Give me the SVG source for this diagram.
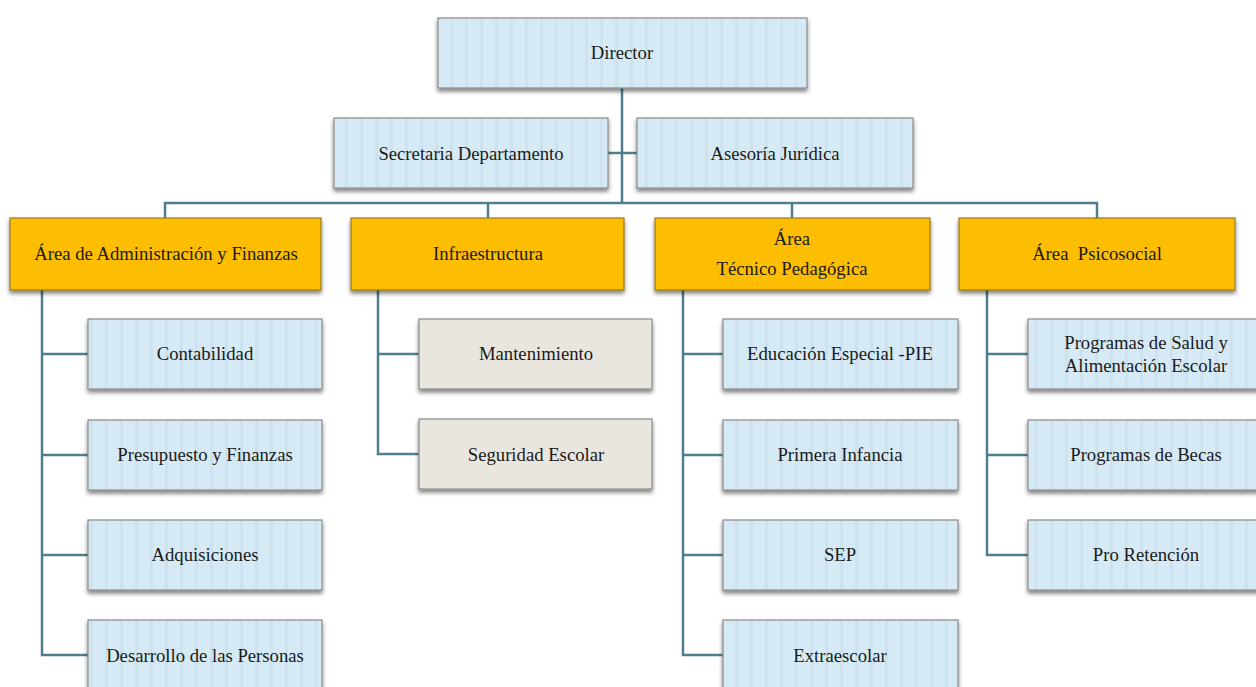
<svg xmlns="http://www.w3.org/2000/svg" width="1256" height="687" viewBox="0 0 1256 687">
<defs>
<pattern id="stripes" patternUnits="userSpaceOnUse" width="15" height="10">
<rect width="15" height="10" fill="#d6eaf5"/>
<rect x="0" width="3" height="10" fill="#cde2ee"/>
</pattern>
<filter id="sh" x="-5%" y="-10%" width="110%" height="130%">
<feGaussianBlur in="SourceAlpha" stdDeviation="2"/>
<feOffset dx="0" dy="3" result="b"/>
<feComponentTransfer><feFuncA type="linear" slope="0.5"/></feComponentTransfer>
<feMerge><feMergeNode/><feMergeNode in="SourceGraphic"/></feMerge>
</filter>
</defs>
<style>
.blue{fill:url(#stripes);stroke:#8a8a8a;stroke-width:1.2;filter:url(#sh)}
.gold{fill:#fdbd00;stroke:#9a7a20;stroke-width:1.2;filter:url(#sh)}
.grey{fill:#e9e6e0;stroke:#8a8a8a;stroke-width:1.2;filter:url(#sh)}
.t{font-size:18.7px;fill:#1a1a1a;text-anchor:middle;dominant-baseline:central}
.c{fill:none;stroke:#4f7f8e;stroke-width:2.5}
</style>
<rect width="1256" height="687" fill="#ffffff"/>
<g id="connectors">
<path class="c" d="M622,88 V203"/>
<path class="c" d="M608,153 H637"/>
<path class="c" d="M165,218 V203 H1097 V218"/>
<path class="c" d="M488,203 V218"/>
<path class="c" d="M792,203 V218"/>
<path class="c" d="M42,290 V655 H88 M42,354 H88 M42,455 H88 M42,555 H88"/>
<path class="c" d="M378,290 V454 H419 M378,354 H419"/>
<path class="c" d="M683,290 V655 H723 M683,354 H723 M683,455 H723 M683,555 H723"/>
<path class="c" d="M987,290 V555 H1028 M987,354 H1028 M987,455 H1028"/>
</g>
<g font-family="'Liberation Serif', 'DejaVu Serif', serif">
<g id="director"><rect class="blue" x="438" y="18" width="369" height="70"/><text class="t" x="622" y="52">Director</text></g>
<g id="secretaria"><rect class="blue" x="334" y="118" width="274" height="70"/><text class="t" x="471" y="153">Secretaria Departamento</text></g>
<g id="asesoria"><rect class="blue" x="637" y="118" width="276" height="70"/><text class="t" x="775" y="153">Asesoría Jurídica</text></g>
<g id="area-admin"><rect class="gold" x="10" y="218" width="311" height="72"/><text class="t" x="166" y="253">Área de Administración y Finanzas</text></g>
<g id="infra"><rect class="gold" x="351" y="218" width="273" height="72"/><text class="t" x="488" y="253">Infraestructura</text></g>
<g id="area-tecnico"><rect class="gold" x="655" y="218" width="275" height="72"/><text class="t" x="792" y="238">Área</text><text class="t" x="792" y="268">Técnico Pedagógica</text></g>
<g id="area-psico"><rect class="gold" x="959" y="218" width="276" height="72"/><text class="t" x="1097" y="253" xml:space="preserve">Área  Psicosocial</text></g>
<g id="contabilidad"><rect class="blue" x="88" y="319" width="234" height="70"/><text class="t" x="205" y="353">Contabilidad</text></g>
<g id="presupuesto"><rect class="blue" x="88" y="420" width="234" height="70"/><text class="t" x="205" y="454">Presupuesto y Finanzas</text></g>
<g id="adquisiciones"><rect class="blue" x="88" y="520" width="234" height="70"/><text class="t" x="205" y="554">Adquisiciones</text></g>
<g id="desarrollo"><rect class="blue" x="88" y="620" width="234" height="72"/><text class="t" x="205" y="655">Desarrollo de las Personas</text></g>
<g id="mantenimiento"><rect class="grey" x="419" y="319" width="233" height="70"/><text class="t" x="536" y="353">Mantenimiento</text></g>
<g id="seguridad"><rect class="grey" x="419" y="419" width="233" height="70"/><text class="t" x="536" y="454">Seguridad Escolar</text></g>
<g id="educacion"><rect class="blue" x="723" y="319" width="235" height="70"/><text class="t" x="840" y="353">Educación Especial -PIE</text></g>
<g id="primera"><rect class="blue" x="723" y="420" width="235" height="70"/><text class="t" x="840" y="454">Primera Infancia</text></g>
<g id="sep"><rect class="blue" x="723" y="520" width="235" height="70"/><text class="t" x="840" y="554">SEP</text></g>
<g id="extraescolar"><rect class="blue" x="723" y="620" width="235" height="72"/><text class="t" x="840" y="655">Extraescolar</text></g>
<g id="salud"><rect class="blue" x="1028" y="319" width="240" height="70"/><text class="t" x="1146" y="342">Programas de Salud y</text><text class="t" x="1146" y="365">Alimentación Escolar</text></g>
<g id="becas"><rect class="blue" x="1028" y="420" width="240" height="70"/><text class="t" x="1146" y="454">Programas de Becas</text></g>
<g id="retencion"><rect class="blue" x="1028" y="520" width="240" height="70"/><text class="t" x="1146" y="554">Pro Retención</text></g>
</g>
</svg>
